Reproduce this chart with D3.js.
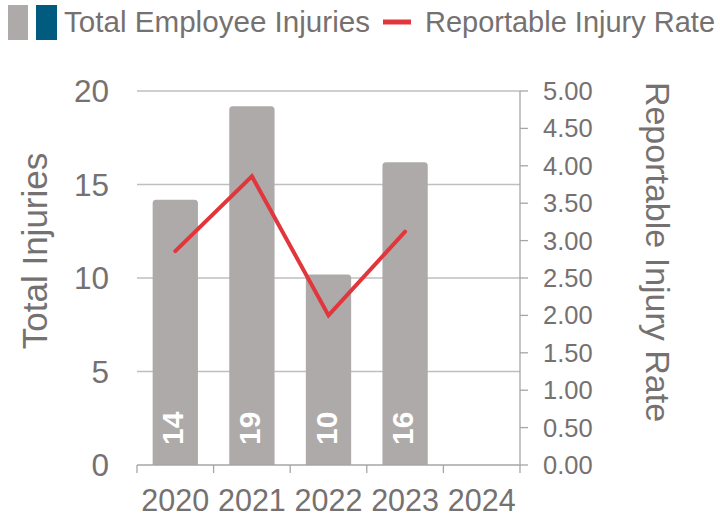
<!DOCTYPE html>
<html><head><meta charset="utf-8">
<script src="https://cdn.jsdelivr.net/npm/d3@7"></script>
<style>body{margin:0;background:#fff}svg{display:block;font-family:"Liberation Sans",Arial,sans-serif}</style>
</head><body><svg id="c" width="720" height="518"></svg>
<script>
const years = ["2020","2021","2022","2023","2024"];
const injuries = [14,19,10,16,null];
const rates = [2.86,3.86,2.00,3.12,null];
const leftTicks = [0,5,10,15,20];
const rightTicks = [0,0.5,1,1.5,2,2.5,3,3.5,4,4.5,5];

const svg = d3.select("#c");
const gray = "#767171", barC = "#AEAAAA", lineC = "#E0363C", axisC = "#A6A6A6";
const x0 = 137, x1 = 520, yB = 465, yT = 91;
const x = d3.scaleBand().domain(years).range([x0,x1]).paddingInner(0.5).paddingOuter(0.25);
const xb = d3.scaleBand().domain(years).range([x0,x1]);
const yL = d3.scaleLinear().domain([0,20]).range([yB,yT]);
const yR = d3.scaleLinear().domain([0,5]).range([yB,yT]);

svg.append("defs").append("clipPath").attr("id","clip")
  .append("rect").attr("x",0).attr("y",0).attr("width",720).attr("height",yB);

// gridlines
svg.append("g").selectAll("line").data(leftTicks.filter(d=>d>0)).join("line")
  .attr("x1",x0).attr("x2",x1).attr("y1",d=>yL(d)).attr("y2",d=>yL(d))
  .attr("stroke","#BFBFBF").attr("stroke-width",1.3);

// bars
const bd = years.map((y,i)=>({y,v:injuries[i]})).filter(d=>d.v!=null);
svg.append("g").attr("clip-path","url(#clip)").selectAll("rect").data(bd).join("rect")
  .attr("x",d=>x(d.y)).attr("width",x.bandwidth())
  .attr("y",d=>yL(d.v)).attr("height",d=>yB-yL(d.v)+4)
  .attr("fill",barC).attr("stroke",barC).attr("stroke-width",7).attr("stroke-linejoin","round");
svg.append("g").selectAll("text").data(bd).join("text")
  .attr("transform",d=>`translate(${x(d.y)+x.bandwidth()/2+8},${yB-20}) rotate(-90)`)
  .attr("fill","#fff").attr("font-weight","bold").attr("font-size",30)
  .attr("text-anchor","start").text(d=>d.v);

// bottom axis
const gx = svg.append("g").attr("transform",`translate(0,${yB})`);
gx.append("line").attr("x1",x0).attr("x2",x1).attr("stroke",axisC).attr("stroke-width",1.3);
gx.selectAll("line.t").data(years.concat(["end"])).join("line").attr("class","t")
  .attr("x1",(d,i)=>x0+i*xb.step()).attr("x2",(d,i)=>x0+i*xb.step())
  .attr("y1",0).attr("y2",8).attr("stroke",axisC).attr("stroke-width",1.3);
gx.selectAll("text").data(years).join("text")
  .attr("x",d=>xb(d)+xb.bandwidth()/2).attr("y",46)
  .attr("text-anchor","middle").attr("font-size",30.5).attr("fill",gray).text(d=>d);

// left tick labels
svg.append("g").selectAll("text").data(leftTicks).join("text")
  .attr("x",109).attr("y",d=>yL(d)+11).attr("text-anchor","end")
  .attr("font-size",31.5).attr("fill",gray).text(d=>d);

// right axis
const gr = svg.append("g");
gr.append("line").attr("x1",x1).attr("x2",x1).attr("y1",yT).attr("y2",yB).attr("stroke",axisC).attr("stroke-width",1.3);
gr.selectAll("line.t").data(rightTicks).join("line").attr("class","t")
  .attr("x1",x1).attr("x2",x1+8).attr("y1",d=>yR(d)).attr("y2",d=>yR(d))
  .attr("stroke",axisC).attr("stroke-width",1.3);
gr.selectAll("text").data(rightTicks).join("text")
  .attr("x",543).attr("y",d=>yR(d)+9).attr("font-size",25.5).attr("fill",gray)
  .text(d=>d3.format(".2f")(d));

// axis titles
svg.append("text").attr("transform","translate(47,251) rotate(-90)")
  .attr("text-anchor","middle").attr("font-size",35).attr("fill",gray).text("Total Injuries");
svg.append("text").attr("transform","translate(646,252) rotate(90)")
  .attr("text-anchor","middle").attr("font-size",34).attr("fill",gray).text("Reportable Injury Rate");

// line
const ld = years.map((y,i)=>({y,v:rates[i]})).filter(d=>d.v!=null);
svg.append("path").datum(ld)
  .attr("d",d3.line().x(d=>xb(d.y)+xb.bandwidth()/2).y(d=>yR(d.v)))
  .attr("fill","none").attr("stroke",lineC).attr("stroke-width",4).attr("stroke-linecap","round");

// legend
svg.append("rect").attr("x",8).attr("y",5).attr("width",20).attr("height",35).attr("fill",barC);
svg.append("rect").attr("x",36).attr("y",5).attr("width",21).attr("height",35).attr("fill","#005B7F");
svg.append("text").attr("x",64).attr("y",32).attr("font-size",29).attr("fill",gray)
  .attr("textLength",306).attr("lengthAdjust","spacingAndGlyphs").text("Total Employee Injuries");
svg.append("line").attr("x1",383).attr("x2",411).attr("y1",22).attr("y2",22).attr("stroke",lineC).attr("stroke-width",5);
svg.append("text").attr("x",425).attr("y",32).attr("font-size",29).attr("fill",gray)
  .attr("textLength",290).attr("lengthAdjust","spacingAndGlyphs").text("Reportable Injury Rate");
</script></body></html>
